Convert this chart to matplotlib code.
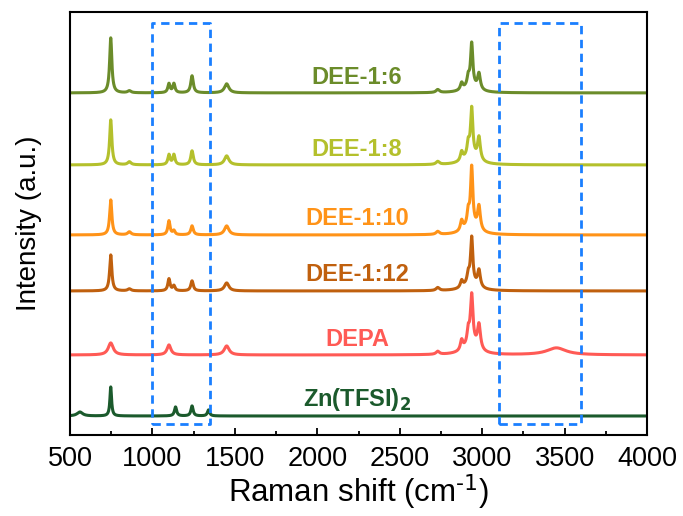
import numpy as np
import matplotlib.pyplot as plt
import matplotlib as mpl

mpl.rcParams['font.family'] = ['Liberation Sans', 'DejaVu Sans']

# 样品名称、颜色、基线偏移
names = ['DEE-1:6', 'DEE-1:8', 'DEE-1:10', 'DEE-1:12', 'DEPA', r'Zn(TFSI)$_\mathbf{2}$']
colors = ['#6b8c2a', '#b4c02c', '#ff9318', '#c0600e', '#ff5a55', '#1b5a2c']
offsets = [342, 270, 200, 144, 80, 19]
label_y = [357, 285, 216, 160, 95, 35]

# 各谱峰: 位置 (cm-1), 高度, 半高半宽
peak_pos = [
    [747, 860, 1100, 1130, 1240, 1450, 2730, 2875, 2915, 2936, 2980, 2930],
    [747, 860, 1100, 1130, 1240, 1450, 2730, 2875, 2915, 2936, 2980, 2930],
    [747, 860, 1100, 1130, 1240, 1450, 2730, 2875, 2915, 2936, 2980, 2930],
    [747, 860, 1100, 1130, 1240, 1450, 2730, 2875, 2915, 2936, 2980, 2930],
    [747, 1100, 1450, 2730, 2875, 2915, 2936, 2980, 2930, 3450],
    [560, 747, 1140, 1240, 1340],
]
peak_h = [
    [55, 2, 9, 9, 17, 9, 3, 7, 9, 42, 16, 7],
    [45, 3, 10, 10, 14, 9, 3, 9, 12, 46, 23, 10],
    [35, 3, 14, 4, 9, 9, 3, 10, 13, 57, 24, 10],
    [36, 2, 12, 5, 10, 8, 3, 7, 9, 45, 17, 8],
    [12, 10, 9, 3, 10, 13, 48, 25, 11, 7],
    [4, 29, 9, 10, 6],
]
peak_w = [
    [8, 12, 8, 8, 9, 16, 12, 9, 8, 8, 10, 45],
    [8, 12, 8, 8, 9, 16, 12, 9, 8, 8, 10, 45],
    [8, 12, 8, 8, 9, 16, 12, 9, 8, 8, 10, 45],
    [8, 12, 8, 8, 9, 16, 12, 9, 8, 8, 10, 45],
    [18, 14, 18, 12, 9, 8, 9, 11, 45, 70],
    [20, 6, 8, 8, 8],
]

x = np.linspace(500, 4000, 3500)

fig = plt.figure(figsize=(6.83, 5.16), dpi=100)
ax = fig.add_axes([0.1025, 0.157, 0.845, 0.820])

for i in range(len(names)):
    y = np.full_like(x, offsets[i], dtype=float)
    for p, h, w in zip(peak_pos[i], peak_h[i], peak_w[i]):
        y += h * w**2 / ((x - p)**2 + w**2)
    ax.plot(x, y, color=colors[i], lw=2.2)
    ax.text(2240, label_y[i], names[i], color=colors[i], fontsize=17,
            fontweight='bold', ha='center', va='center')

# 蓝色虚线框
for x0, x1 in [(1000, 1350), (3100, 3600)]:
    ax.plot([x0, x1, x1, x0, x0], [11, 11, 412, 412, 11], color='#1a7fff',
            lw=2, ls=(0, (3, 2)))

ax.set_xlim(500, 4000)
ax.set_ylim(0, 423)
ax.set_xticks(np.arange(500, 4001, 500))
ax.set_xticks(np.arange(750, 4000, 500), minor=True)
ax.set_yticks([])
ax.tick_params(axis='x', which='major', direction='in', length=5, width=1.3,
               labelsize=19.5, top=False, pad=8)
ax.tick_params(axis='x', which='minor', direction='in', length=3, width=1.3, top=False)
for s in ax.spines.values():
    s.set_linewidth(1.5)
ax.set_xlabel(r'Raman shift (cm$^{\text{-1}}$)', fontsize=22.5, labelpad=0)
ax.set_ylabel('Intensity (a.u.)', fontsize=20, labelpad=20)

fig.savefig('out.png', dpi=100)
